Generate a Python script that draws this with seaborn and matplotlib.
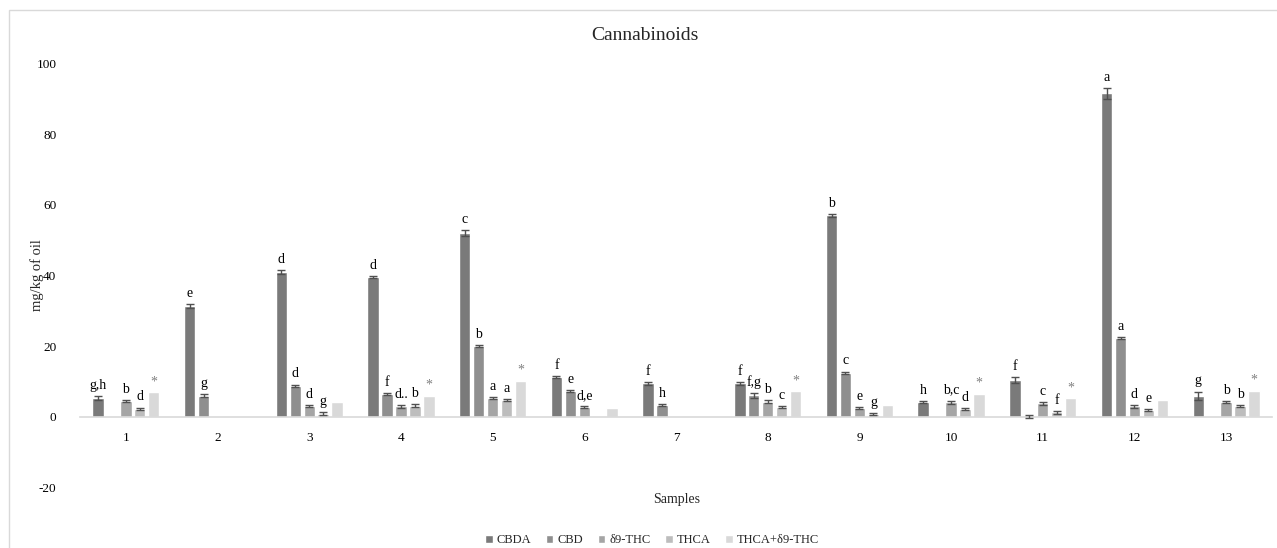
import numpy as np
import pandas as pd
import matplotlib
matplotlib.use("Agg")
import matplotlib.pyplot as plt
from matplotlib.patches import Rectangle
import seaborn as sns

samples = [str(i) for i in range(1, 14)]
compounds = ["CBDA", "CBD", "δ9-THC", "THCA", "THCA+δ9-THC"]

cbda = [5.3, 31.4, 41.0, 39.5, 52.0, 11.2, 9.5, 9.5, 57.0, 4.1, 10.4, 91.6, 5.9]
cbd = [0, 6.0, 8.8, 6.5, 20.1, 7.2, 3.3, 6.1, 12.5, 0, 0, 22.2, 0]
d9thc = [4.5, 0, 3.1, 2.9, 5.2, 2.7, 0, 4.3, 2.4, 4.1, 3.8, 2.9, 4.2]
thca = [2.3, 0, 0.9, 3.1, 4.7, 0, 0, 2.8, 0.8, 2.2, 1.2, 1.8, 3.1]
total = [6.9, 0, 4.1, 6.0, 10.1, 2.6, 0, 7.2, 3.4, 6.4, 5.2, 4.7, 7.4]

nan = np.nan
err_cbda = [0.6, 0.6, 0.6, 0.3, 0.8, 0.3, 0.4, 0.4, 0.3, 0.3, 0.9, 1.6, 1.2]
err_cbd = [nan, 0.4, 0.3, 0.3, 0.3, 0.3, 0.3, 0.7, 0.3, nan, 0.4, 0.3, nan]
err_d9thc = [0.3, nan, 0.3, 0.3, 0.3, 0.3, nan, 0.3, 0.3, 0.4, 0.4, 0.3, 0.3]
err_thca = [0.3, nan, 0.3, 0.4, 0.3, nan, nan, 0.3, 0.3, 0.3, 0.3, 0.3, 0.3]
err_total = [nan] * 13

lab_cbda = ["g,h", "e", "d", "d", "c", "f", "f", "f", "b", "h", "f", "a", "g"]
lab_cbd = ["", "g", "d", "f", "b", "e", "h", "f,g", "c", "", "", "a", ""]
lab_d9thc = ["b", "", "d", "d..", "a", "d,e", "", "b", "e", "b,c", "c", "d", "b"]
lab_thca = ["d", "", "g", "b", "a", "", "", "c", "g", "d", "f", "e", "b"]
lab_total = ["*", "", "", "*", "*", "", "", "*", "", "*", "*", "", "*"]

values = [cbda, cbd, d9thc, thca, total]
errors = [err_cbda, err_cbd, err_d9thc, err_thca, err_total]
labels = [lab_cbda, lab_cbd, lab_d9thc, lab_thca, lab_total]
colors = ["#7a7a7a", "#8f8f8f", "#a5a5a5", "#bdbdbd", "#d9d9d9"]

df = pd.DataFrame({
    "Sample": np.repeat([samples], len(compounds), axis=0).ravel(),
    "Compound": np.repeat(compounds, len(samples)),
    "Value": np.concatenate(values),
})

sns.set_theme(style="white")
plt.rcParams["font.family"] = ["Liberation Serif", "DejaVu Serif"]
plt.rcParams["axes.unicode_minus"] = False

fig = plt.figure(figsize=(12.77, 5.48), dpi=100)
W, H = 1277, 548
ax = fig.add_axes([80 / W, 1 - 487.3 / H, 1192 / W, (487.3 - 63.7) / H])

sns.barplot(data=df, x="Sample", y="Value", hue="Compound", order=samples,
            hue_order=compounds, palette=colors, width=0.76, gap=0.18,
            errorbar=None, saturation=1, ax=ax)

bar_conts = list(ax.containers)
for k, cont in enumerate(bar_conts):
    for j, bar in enumerate(cont):
        cx = bar.get_x() + bar.get_width() / 2
        v = values[k][j]
        e = errors[k][j]
        top = v
        if not np.isnan(e):
            ax.errorbar(cx, v, yerr=e, color="#505050", capsize=3, lw=1,
                        capthick=1, zorder=3)
            top = v + e
        t = labels[k][j]
        if t:
            ax.annotate(t, xy=(cx, top), xytext=(0, 3), textcoords="offset points",
                        ha="center", va="bottom", fontsize=10,
                        color="#808080" if t == "*" else "black")

ax.set_ylim(-20, 100)
ax.set_yticks([-20, 0, 20, 40, 60, 80, 100])
ax.set_xlim(-0.5, 12.5)
for s in ["top", "right", "left"]:
    ax.spines[s].set_visible(False)
ax.spines["bottom"].set_position(("data", 0))
ax.spines["bottom"].set_color("#d9d9d9")
ax.spines["bottom"].set_linewidth(1.2)
ax.tick_params(axis="both", length=0, labelsize=9.5, colors="black")
ax.tick_params(axis="y", pad=17)
ax.tick_params(axis="x", pad=11)
ax.set_xlabel("")
ax.set_ylabel("mg/kg of oil", fontsize=10.5)
ax.yaxis.set_label_coords(-0.030, 0.5)

handles, labs = ax.get_legend_handles_labels()
ax.get_legend().remove()
fig.legend(handles, labs, loc="center", bbox_to_anchor=(652 / W, 1 - 540 / H),
           ncol=5, frameon=False, fontsize=9, handlelength=0.6, handleheight=0.6,
           handletextpad=0.3, columnspacing=1.2)

fig.text(645 / W, 1 - 35 / H, "Cannabinoids", ha="center", va="center", fontsize=14)
fig.text(677 / W, 1 - 499 / H, "Samples", ha="center", va="center", fontsize=10)

fig.patches.append(Rectangle((8.5 / W, -0.1), 1.2, 1.1 - 10.5 / H,
                             transform=fig.transFigure, fill=False,
                             edgecolor="#d9d9d9", lw=1))

fig.savefig("out.png", dpi=100)
